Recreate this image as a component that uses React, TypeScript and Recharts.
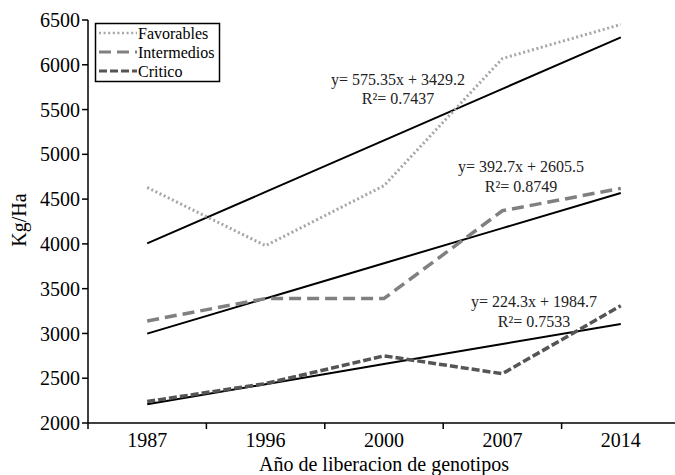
import React from 'react';
import { LineChart, Line, XAxis, YAxis, Customized } from 'recharts';

const years = ['1987', '1996', '2000', '2007', '2014'];
const favorables = [4630, 3980, 4650, 6070, 6450];
const intermedios = [3140, 3390, 3390, 4370, 4620];
const critico = [2240, 2440, 2750, 2550, 3310];
const trendFavorables = [4005, 4580, 5155, 5731, 6306];
const trendIntermedios = [2998, 3391, 3784, 4176, 4569];
const trendCritico = [2209, 2433, 2658, 2882, 3106];
const yTicks = [2000, 2500, 3000, 3500, 4000, 4500, 5000, 5500, 6000, 6500];
const xTicks = [0.5, 1, 1.5, 2, 2.5, 3, 3.5, 4, 4.5, 5, 5.5];
const seriesNames = ['Favorables', 'Intermedios', 'Critico'];
const equations = ['y= 575.35x + 3429.2', 'y= 392.7x + 2605.5', 'y= 224.3x + 1984.7'];
const r2Labels = ['R²= 0.7437', 'R²= 0.8749', 'R²= 0.7533'];

const data = years.map((year, i) => ({
  x: i + 1,
  year,
  favorables: favorables[i],
  intermedios: intermedios[i],
  critico: critico[i],
  tFav: trendFavorables[i],
  tInt: trendIntermedios[i],
  tCri: trendCritico[i],
}));

const FONT = 'Liberation Serif';
const fontStyle = { fontFamily: 'Liberation Serif' };

const seriesStyles = [
  { stroke: '#a6a6a6', dash: '2 2.6', width: 3 },
  { stroke: '#808080', dash: '12 6', width: 3.5 },
  { stroke: '#555555', dash: '8 3', width: 3.5 },
];

const XTick = (props: any) => {
  const { x, y, payload } = props;
  const v = payload.value;
  if (Number.isInteger(v)) {
    return (
      <text x={x} y={y + 24} textAnchor="middle" fontSize={20} fontFamily={FONT} style={fontStyle} fill="#000">
        {years[v - 1]}
      </text>
    );
  }
  return <line x1={x} y1={y} x2={x} y2={y + 6} stroke="#000" strokeWidth={1.5} />;
};

const eqPos = [
  { cx: 398, y1: 85, y2: 104 },
  { cx: 521, y1: 172, y2: 192 },
  { cx: 534, y1: 307, y2: 327 },
];

const Overlay = () => (
  <g style={fontStyle}>
    <rect x={95.5} y={23.5} width={124} height={58} fill="#fff" stroke="#000" strokeWidth={1.5} />
    {seriesNames.map((name, i) => {
      const cy = 33 + i * 19;
      const s = seriesStyles[i];
      return (
        <g key={name}>
          <line x1={99} y1={cy} x2={137} y2={cy} stroke={s.stroke} strokeWidth={s.width - 0.5} strokeDasharray={s.dash} />
          <text x={138} y={cy + 5.5} fontSize={16} fontFamily={FONT} style={fontStyle} fill="#000">{name}</text>
        </g>
      );
    })}
    {equations.map((eq, i) => (
      <g key={eq}>
        <text x={eqPos[i].cx} y={eqPos[i].y1} textAnchor="middle" fontSize={16} fontFamily={FONT} style={fontStyle} fill="#222">{eq}</text>
        <text x={eqPos[i].cx} y={eqPos[i].y2} textAnchor="middle" fontSize={16} fontFamily={FONT} style={fontStyle} fill="#222">{r2Labels[i]}</text>
      </g>
    ))}
    <text x={0} y={0} transform="translate(19,220) rotate(-90)" textAnchor="middle" dominantBaseline="central" fontSize={20} fontFamily={FONT} style={fontStyle} fill="#000">Kg/Ha</text>
    <text x={384} y={471} textAnchor="middle" fontSize={20} fontFamily={FONT} style={fontStyle} fill="#000">Año de liberacion de genotipos</text>
  </g>
);

export default function App() {
  return (
    <div style={{ position: 'absolute', left: 0, top: 0, width: 675, height: 475, overflow: 'hidden', background: '#fff', fontFamily: 'Liberation Serif' }}>
      <LineChart width={680} height={475} data={data} margin={{ top: 20, right: 0, bottom: 0, left: 0 }} style={fontStyle}>
        <XAxis
          dataKey="x"
          type="number"
          domain={[0.5, 5.5]}
          ticks={xTicks}
          interval={0}
          tick={<XTick />}
          tickLine={false}
          tickSize={0}
          tickMargin={0}
          height={52}
          axisLine={{ stroke: '#000', strokeWidth: 1.5 }}
        />
        <YAxis
          domain={[2000, 6500]}
          ticks={yTicks}
          interval={0}
          width={88}
          tickSize={6}
          tickMargin={2}
          tick={{ fontSize: 20, fontFamily: FONT, fill: '#000', style: fontStyle }}
          tickLine={{ stroke: '#000', strokeWidth: 1.5 }}
          axisLine={{ stroke: '#000', strokeWidth: 1.5 }}
        />
        <Line dataKey="tFav" stroke="#000" strokeWidth={2} dot={false} isAnimationActive={false} />
        <Line dataKey="tInt" stroke="#000" strokeWidth={2} dot={false} isAnimationActive={false} />
        <Line dataKey="tCri" stroke="#000" strokeWidth={2} dot={false} isAnimationActive={false} />
        <Line dataKey="favorables" stroke={seriesStyles[0].stroke} strokeWidth={seriesStyles[0].width} strokeDasharray={seriesStyles[0].dash} dot={false} isAnimationActive={false} />
        <Line dataKey="intermedios" stroke={seriesStyles[1].stroke} strokeWidth={seriesStyles[1].width} strokeDasharray={seriesStyles[1].dash} dot={false} isAnimationActive={false} />
        <Line dataKey="critico" stroke={seriesStyles[2].stroke} strokeWidth={seriesStyles[2].width} strokeDasharray={seriesStyles[2].dash} dot={false} isAnimationActive={false} />
        <Customized component={Overlay} />
      </LineChart>
    </div>
  );
}
